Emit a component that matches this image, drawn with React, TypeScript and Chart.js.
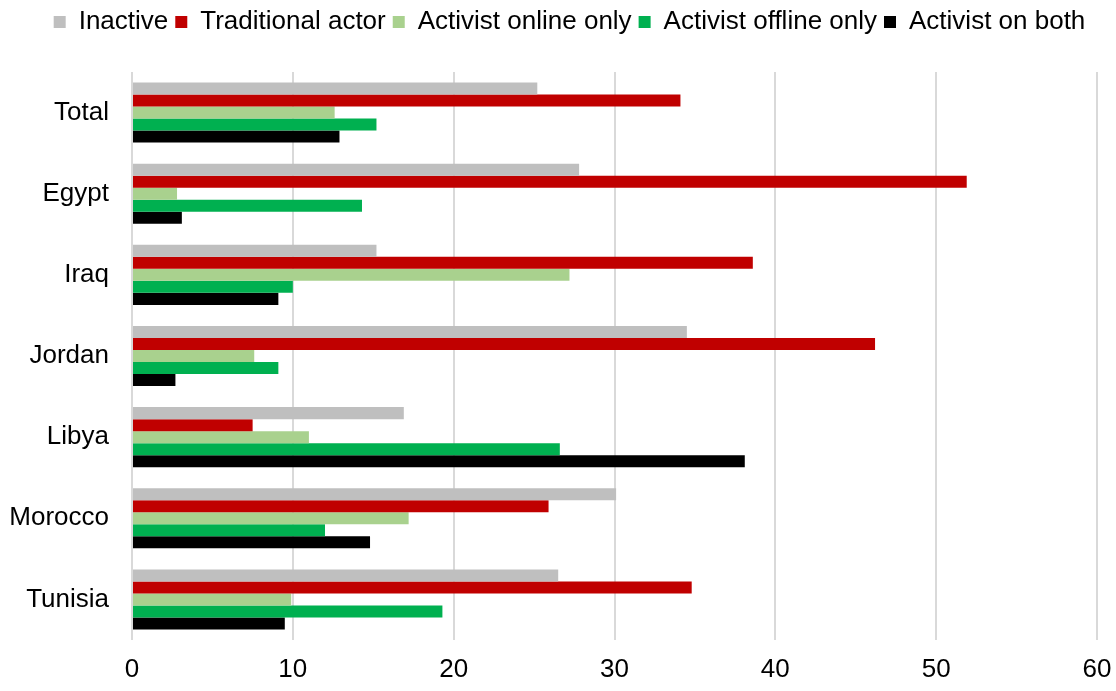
import React, { useEffect, useRef } from "react";
import { Chart, registerables } from "chart.js";

Chart.register(...registerables);

const categories = ["Total", "Egypt", "Iraq", "Jordan", "Libya", "Morocco", "Tunisia"];
const inactive = [25.2, 27.8, 15.2, 34.5, 16.9, 30.1, 26.5];
const traditional = [34.1, 51.9, 38.6, 46.2, 7.5, 25.9, 34.8];
const onlineOnly = [12.6, 2.8, 27.2, 7.6, 11.0, 17.2, 9.9];
const offlineOnly = [15.2, 14.3, 10.0, 9.1, 26.6, 12.0, 19.3];
const onBoth = [12.9, 3.1, 9.1, 2.7, 38.1, 14.8, 9.5];
const seriesNames = ["Inactive", "Traditional actor", "Activist online only", "Activist offline only", "Activist on both"];
const seriesColors = ["#BFBFBF", "#C00000", "#A9D18E", "#00B050", "#000000"];

const FONT = "'Liberation Sans', Arial, sans-serif";

const legendTweak = {
  id: "legendTweak",
  beforeInit(chart: any) {
    const orig = chart.legend.fit;
    chart.legend.fit = function () {
      orig.bind(this)();
      this.height += 27;
    };
  },
  afterLayout(chart: any) {
    chart.legend.left += 21;
    chart.legend.right += 21;
  },
};

export default function App() {
  const ref = useRef<HTMLCanvasElement | null>(null);
  useEffect(() => {
    document.body.style.margin = "0";
    const ctx = ref.current;
    if (!ctx) return;
    const values = [inactive, traditional, onlineOnly, offlineOnly, onBoth];
    const chart = new Chart(ctx, {
      type: "bar",
      data: {
        labels: categories,
        datasets: values.map((v, i) => ({
          label: seriesNames[i],
          data: v,
          backgroundColor: seriesColors[i],
          borderWidth: 0,
          categoryPercentage: 0.74,
          barPercentage: 1.0,
        })),
      },
      plugins: [legendTweak],
      options: {
        indexAxis: "y",
        animation: false,
        responsive: false,
        maintainAspectRatio: false,
        layout: { padding: { left: 0, right: 19, top: 2, bottom: 0 } },
        plugins: {
          tooltip: { enabled: false },
          legend: {
            position: "top",
            labels: {
              boxWidth: 12,
              boxHeight: 12,
              padding: 7,
              color: "#000",
              font: { family: FONT, size: 26 },
            },
          },
        },
        scales: {
          x: {
            min: 0,
            max: 60,
            afterFit(scale: any) {
              scale.height = 51;
              scale.paddingRight = 0;
              scale.paddingLeft = 0;
            },
            ticks: {
              stepSize: 10,
              color: "#000",
              padding: 14,
              font: { family: FONT, size: 26 },
            },
            grid: { color: "#D9D9D9", lineWidth: 2, drawTicks: false },
            border: { display: false },
          },
          y: {
            afterFit(scale: any) {
              scale.width = 132;
            },
            ticks: {
              color: "#000",
              padding: 23,
              font: { family: FONT, size: 26 },
            },
            grid: { display: false, drawTicks: false },
            border: { display: false },
          },
        },
      },
    });
    return () => chart.destroy();
  }, []);
  return (
    <div style={{ width: 1116, height: 691 }}>
      <canvas ref={ref} width={1116} height={691} style={{ width: 1116, height: 691 }} />
    </div>
  );
}
